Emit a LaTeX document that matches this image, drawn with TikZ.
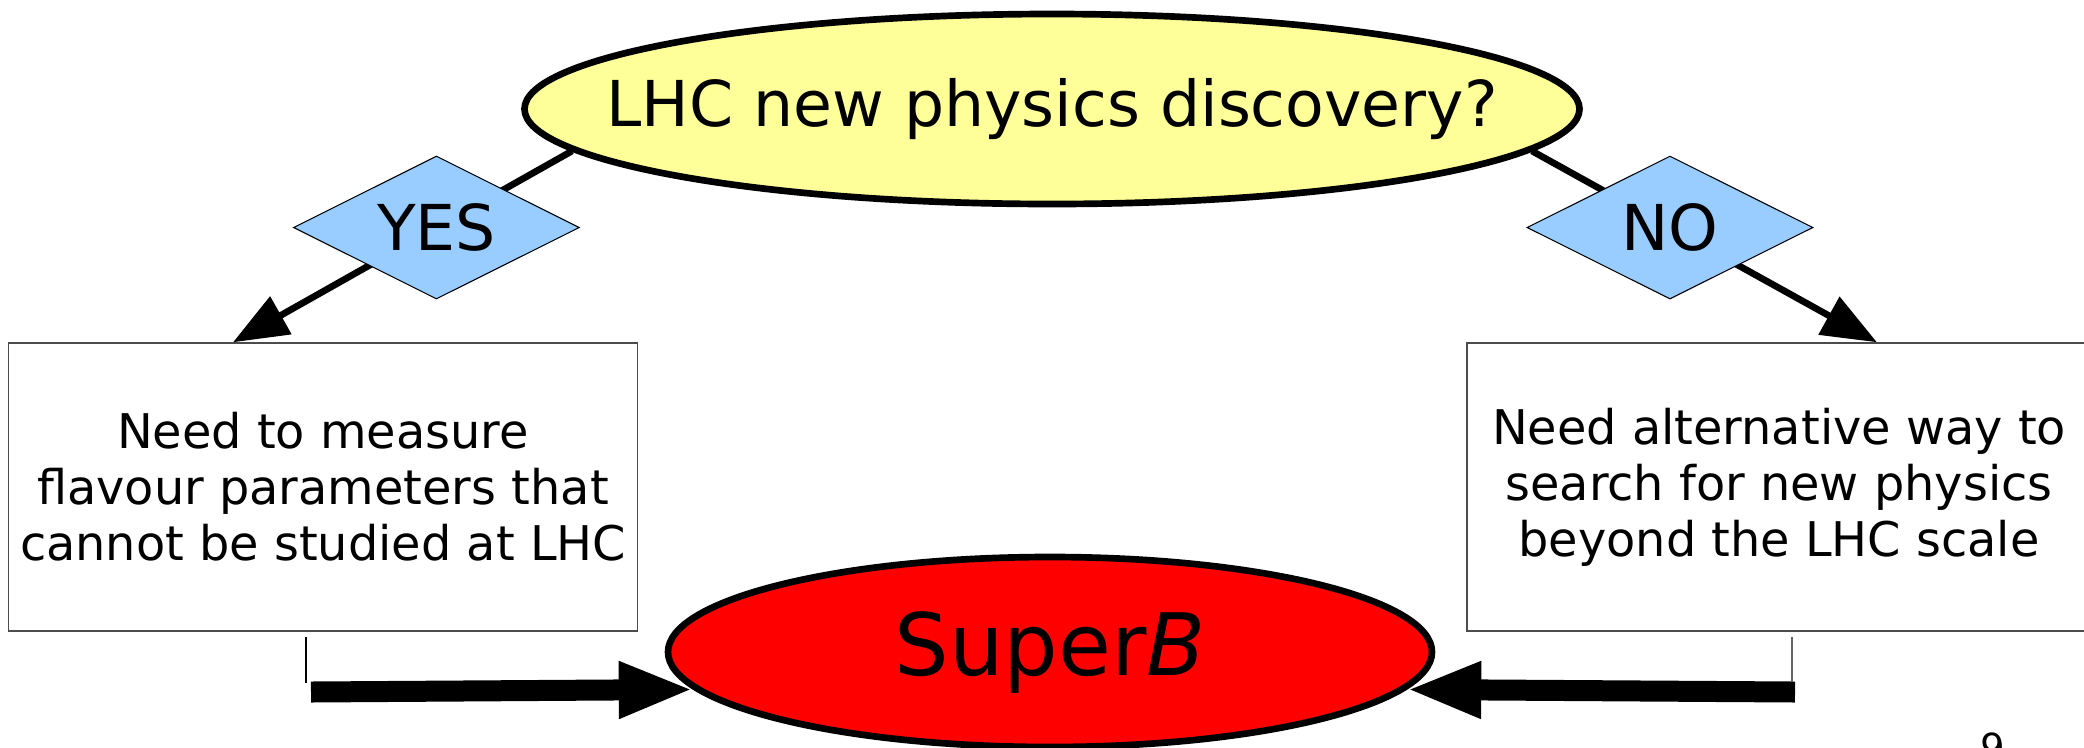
\documentclass[tikz,border=0pt]{standalone}
\usepackage{fontspec}
\setmainfont{DejaVu Sans}
\definecolor{askfill}{RGB}{255,255,153}
\definecolor{answerfill}{RGB}{153,204,255}
\definecolor{superbred}{RGB}{255,0,0}
\usetikzlibrary{arrows.meta,shapes.geometric}

\begin{document}
\begin{tikzpicture}[
    oval/.style={ellipse,draw,line width=1.9pt,inner sep=0pt},
    decision/.style={diamond,draw,line width=0.3pt,fill=answerfill,shape aspect=2,inner sep=0pt,
      minimum width=2.86cm,minimum height=1.43cm,font=\fontsize{18}{22}\selectfont},
    need/.style={rectangle,draw=black!70,line width=0.4pt,minimum width=6.24cm,minimum height=2.88cm,
      align=center,font=\fontsize{13.6}{15.9}\selectfont},
    flow/.style={line width=1.9pt,-{Triangle[length=0.55cm,width=0.42cm]}},
    bigflow/.style={line width=0.21cm,-{Triangle[length=0.75cm,width=0.52cm]}}]
  \useasboundingbox (0,0) rectangle (20.84,-7.47);
  % question, options and goal
  \node[oval,fill=askfill,minimum width=10.55cm,minimum height=1.90cm,
    font=\fontsize{18}{22}\selectfont] (lhc) at (10.52,-1.09) {\makebox[0pt]{LHC new physics discovery?}};
  \node[need] (leftbox) at (3.23,-4.87) {Need to measure\\flavour parameters that\\cannot be studied at LHC};
  \node[need] (rightbox) at (17.79,-4.87) {Need alternative way to\\search for new physics\\beyond the LHC scale};
  \node[oval,fill=superbred,minimum width=7.64cm,minimum height=1.90cm,
    font=\fontsize{24.5}{29}\selectfont] (superb) at (10.50,-6.52) {\makebox[0pt]{Super\textit{B}}};
  % yes / no branches
  \draw[flow] (lhc.185) -- node[decision,pos=0.4] (yes) {YES} ([xshift=-0.90cm]leftbox.north);
  \draw[flow] (lhc.355) -- node[decision,pos=0.4] (no) {NO} ([xshift=0.98cm]rightbox.north);
  % into SuperB
  \coordinate (yesfoot) at (3.11,-6.92);
  \coordinate (nofoot) at (17.95,-6.92);
  \draw[bigflow] (yesfoot) -- (superb.186);
  \draw[bigflow] (nofoot) -- (superb.354);
  \draw[line width=0.4pt] (3.06,-6.37) -- (3.06,-6.83);
  \draw[line width=0.4pt,black!60] (17.92,-6.37) -- (17.92,-6.82);
  % page number
  \node[anchor=north,inner sep=0pt,font=\fontsize{11}{13}\selectfont] (page) at (19.925,-7.32) {9};
\end{tikzpicture}
\end{document}
